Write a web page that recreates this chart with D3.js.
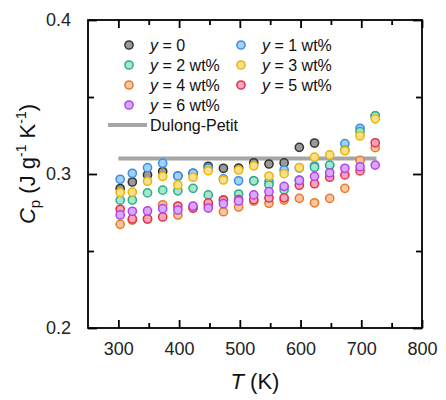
<!DOCTYPE html>
<html><head><meta charset="utf-8">
<script src="https://cdn.jsdelivr.net/npm/d3@7"></script>
<style>body{margin:0;background:#fff}svg{display:block;font-family:"Liberation Sans",Arial,sans-serif}</style>
</head><body><svg id="c" width="446" height="400"></svg>
<script>
const temps = [303, 323, 348, 373, 398, 423, 448, 473, 498, 523, 548, 573, 598, 623, 648, 673, 698, 723];
const cp_y0 = [0.2906, 0.2948, 0.2994, 0.3016, 0.2987, 0.3005, 0.3050, 0.3037, 0.3039, 0.3073, 0.3065, 0.3072, 0.3173, 0.3201, null, null, null, null];
const cp_y1 = [0.2966, 0.3005, 0.3041, 0.3070, 0.2987, 0.3005, 0.3039, 0.2968, 0.2956, 0.2955, 0.2950, 0.3026, 0.3039, 0.3052, 0.3055, 0.3197, 0.3297, 0.3377];
const cp_y2 = [0.2830, 0.2831, 0.2877, 0.2895, 0.2891, 0.2907, 0.2864, 0.2831, 0.2870, 0.2956, 0.2929, 0.2898, 0.2961, 0.3044, 0.3058, 0.3156, 0.3275, 0.3377];
const cp_y3 = [0.2880, 0.2882, 0.2953, 0.2985, 0.2929, 0.2979, 0.3021, 0.2961, 0.3026, 0.3053, 0.2987, 0.3002, 0.3042, 0.3109, 0.3124, 0.3151, 0.3247, 0.3358];
const cp_y4 = [0.2673, 0.2701, 0.2708, 0.2800, 0.2734, 0.2779, 0.2799, 0.2755, 0.2786, 0.2825, 0.2810, 0.2831, 0.2842, 0.2813, 0.2842, 0.2907, 0.3088, 0.3171];
const cp_y5 = [0.2771, 0.2708, 0.2708, 0.2721, 0.2792, 0.2779, 0.2812, 0.2831, 0.2834, 0.2833, 0.2844, 0.2845, 0.2927, 0.2937, 0.2979, 0.2994, 0.3020, 0.3203];
const cp_y6 = [0.2734, 0.2758, 0.2760, 0.2775, 0.2766, 0.2792, 0.2779, 0.2807, 0.2825, 0.2864, 0.2885, 0.2920, 0.2958, 0.2985, 0.3008, 0.3037, 0.3047, 0.3058];
const seriesLabels = ["0", "1 wt%", "2 wt%", "3 wt%", "4 wt%", "5 wt%", "6 wt%"];
const dulongT = [300, 725];
const dulongCp = [0.31, 0.31];
const xTicks = [300, 400, 500, 600, 700, 800];
const xMinor = [350, 450, 550, 650, 750];
const yTicks = [0.2, 0.3, 0.4];
const yMinor = [0.25, 0.35];

const strokes = ["#333333", "#3b8fe6", "#2aae86", "#e6b60a", "#e67a2c", "#e3304f", "#b243ee"];
const fills   = ["#9a9a9a", "#a3d0f8", "#a6e6cf", "#fbe08c", "#f8c7a0", "#f6a5b6", "#dba7f8"];
const allSeries = [cp_y0, cp_y1, cp_y2, cp_y3, cp_y4, cp_y5, cp_y6];

const svg = d3.select("#c");
const L = 88, R = 422, T = 20, B = 328;
const x = d3.scaleLinear().domain([250, 800]).range([L, R]);
const y = d3.scaleLinear().domain([0.2, 0.4]).range([B, T]);
const rMark = 4.1;

// frame
svg.append("rect").attr("x", L).attr("y", T).attr("width", R - L).attr("height", B - T)
  .attr("fill", "none").attr("stroke", "#000").attr("stroke-width", 1.8);

// axes with inward ticks
const fontTick = 18;
const gx = svg.append("g").attr("transform", `translate(0,${B})`)
  .call(d3.axisBottom(x).tickValues(xTicks).tickSize(-8).tickPadding(14).tickFormat(d3.format("d")));
const gxm = svg.append("g").attr("transform", `translate(0,${B})`)
  .call(d3.axisBottom(x).tickValues(xMinor).tickSize(-5).tickFormat(""));
const gxt = svg.append("g").attr("transform", `translate(0,${T})`)
  .call(d3.axisTop(x).tickValues(xTicks).tickSize(-8).tickFormat(""));
const gxtm = svg.append("g").attr("transform", `translate(0,${T})`)
  .call(d3.axisTop(x).tickValues(xMinor).tickSize(-5).tickFormat(""));
const gy = svg.append("g").attr("transform", `translate(${L},0)`)
  .call(d3.axisLeft(y).tickValues(yTicks).tickSize(-9).tickPadding(17).tickFormat(d3.format(".1f")));
const gym = svg.append("g").attr("transform", `translate(${L},0)`)
  .call(d3.axisLeft(y).tickValues(yMinor).tickSize(-6).tickFormat(""));
const gyr = svg.append("g").attr("transform", `translate(${R},0)`)
  .call(d3.axisRight(y).tickValues(yTicks).tickSize(-9).tickFormat(""));
const gyrm = svg.append("g").attr("transform", `translate(${R},0)`)
  .call(d3.axisRight(y).tickValues(yMinor).tickSize(-6).tickFormat(""));
[gx, gxm, gxt, gxtm, gy, gym, gyr, gyrm].forEach(g => {
  g.select(".domain").remove();
  g.selectAll("line").attr("stroke", "#000").attr("stroke-width", 1.8);
  g.selectAll("text").attr("font-size", fontTick).attr("fill", "#222")
    .attr("font-family", "Liberation Sans, Arial, sans-serif");
});

// Dulong-Petit line
svg.append("path")
  .datum(dulongT.map((t, i) => [t, dulongCp[i]]))
  .attr("d", d3.line().x(d => x(d[0])).y(d => y(d[1])))
  .attr("stroke", "#a6a6a6").attr("stroke-width", 4).attr("fill", "none");

// data points
allSeries.forEach((vals, si) => {
  const pts = temps.map((t, i) => ({t, v: vals[i]})).filter(d => d.v != null);
  svg.append("g").selectAll("circle").data(pts).join("circle")
    .attr("cx", d => x(d.t)).attr("cy", d => y(d.v)).attr("r", rMark)
    .attr("fill", fills[si]).attr("stroke", strokes[si]).attr("stroke-width", 1.5);
});

// legend
const leg = svg.append("g").attr("font-size", 16).attr("fill", "#111");
const legPos = [[0,0],[1,0],[0,1],[1,1],[0,2],[1,2],[0,3]];
allSeries.forEach((_, si) => {
  const [c, r] = legPos[si];
  const mx = c === 0 ? 129 : 241, ty = 45 + r * 20;
  leg.append("circle").attr("cx", mx).attr("cy", ty).attr("r", rMark)
    .attr("fill", fills[si]).attr("stroke", strokes[si]).attr("stroke-width", 1.5);
  const t = leg.append("text").attr("x", mx + 21).attr("y", ty + 6);
  t.append("tspan").attr("font-style", "italic").text("y");
  t.append("tspan").text(" = " + seriesLabels[si]);
});
leg.append("line").attr("x1", 108).attr("x2", 147).attr("y1", 125).attr("y2", 125)
  .attr("stroke", "#a6a6a6").attr("stroke-width", 4);
leg.append("text").attr("x", 150).attr("y", 131).text("Dulong-Petit");

// axis titles
const xt = svg.append("text").attr("x", (L + R) / 2).attr("y", 389)
  .attr("text-anchor", "middle").attr("font-size", 22).attr("fill", "#111");
xt.append("tspan").attr("font-style", "italic").text("T");
xt.append("tspan").text(" (K)");

const yt = svg.append("text").attr("transform", `translate(35,${(T + B) / 2 - 10}) rotate(-90)`)
  .attr("text-anchor", "middle").attr("font-size", 22).attr("fill", "#111");
yt.append("tspan").attr("font-style", "italic").text("C");
yt.append("tspan").attr("font-size", 15).attr("dy", 5).text("p");
yt.append("tspan").attr("dy", -5).text(" (J g");
yt.append("tspan").attr("font-size", 14).attr("dy", -9).text("-1");
yt.append("tspan").attr("dy", 9).text(" K");
yt.append("tspan").attr("font-size", 14).attr("dy", -9).text("-1");
yt.append("tspan").attr("dy", 9).text(")");
</script></body></html>
